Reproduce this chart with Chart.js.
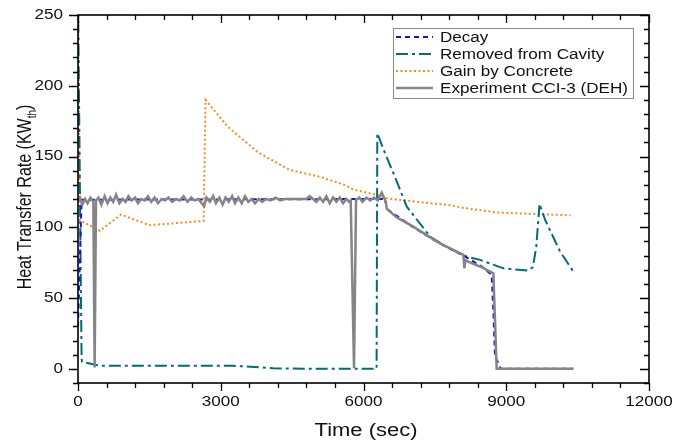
<!DOCTYPE html>
<html>
<head>
<meta charset="utf-8">
<script src="https://cdn.jsdelivr.net/npm/chart.js@4.4.1/dist/chart.umd.min.js"></script>
<style>
html,body{margin:0;padding:0;background:#fff;}
#wrap{width:688px;height:443px;position:relative;}
</style>
</head>
<body>
<div id="wrap"><canvas id="c" width="688" height="443"></canvas></div>
<script>
// ---- data ----
const xMajorTicks = [0, 3000, 6000, 9000, 12000];
const yMajorTicks = [0, 50, 100, 150, 200, 250];
const xMinorTicks = [600,1200,1800,2400,3600,4200,4800,5400,6600,7200,7800,8400,9600,10200,10800,11400];
const yMinorTicks = [-10,10,20,30,40,60,70,80,90,110,120,130,140,160,170,180,190,210,220,230,240];

const seriesLabels = ["Decay", "Removed from Cavity", "Gain by Concrete", "Experiment CCI-3 (DEH)"];

const decayT = [0, 75, 6450, 6490, 7047, 7608, 8099, 8500, 8693, 8730, 8764, 8854, 8880, 10410];
const decayV = [30, 119.5, 120, 113, 100, 88.5, 80, 72, 66.3, 40, 8.6, 2.7, 0, 0];

const removedT = [0, 75, 85, 460, 3260, 4100, 5000, 6275, 6290, 6420, 6680, 6910, 7400, 7800, 8170, 8450, 8940, 9460, 9560, 9630, 9700, 9820, 10130, 10410];
const removedV = [262, 9, 5, 2.2, 2.2, 0.4, 0, 0, 166.5, 155, 134, 114.6, 93.4, 85, 79.3, 77, 71, 69.4, 72, 86, 116.5, 105, 83, 68.7];

const gainT = [0, 40, 460, 900, 1500, 2640, 2680, 3150, 3780, 4450, 5100, 5600, 5800, 6280, 6500, 6770, 7400, 7800, 8100, 8800, 9500, 10350];
const gainV = [262, 105, 97.5, 109, 101.5, 104.5, 190, 171, 153, 140.5, 135.5, 130, 126.5, 123, 120.5, 119.3, 117, 115.8, 113.7, 110.5, 109.5, 108.5];

const expT = [0,40,90,150,200,260,322,350,378,430,490,560,620,680,740,800,870,940,1000,1060,1130,1200,1260,1330,1400,1470,1540,1610,1680,1760,1830,1900,1980,2060,2140,2220,2300,2380,2450,2530,2600,2650,2700,2770,2840,2900,2970,3040,3100,3170,3240,3300,3370,3440,3510,3580,3650,3720,3800,3870,3950,4050,4150,4250,4350,4800,4870,4940,5010,5080,5150,5220,5290,5360,5430,5500,5570,5640,5700,5731,5801,5843,5910,5980,6060,6140,6220,6300,6383,6430,6470,6490,6700,7047,7300,7608,8099,8120,8140,8200,8500,8729,8799,10400];
const expV = [118,121,116,120,117,121,118,1,119,121,116,122,117,121,118,123,117,120,118,122,119,121,117,120,119,122,118,121,117,120,119,121,118,120,119,122,118,121,119,120,117,115,121,118,122,117,121,116,121,118,122,117,121,117,122,118,120,117,120,118,120,119,121,119,120,120,122,120,118,121,118,122,117,121,118,121,117,120,118,119,0.5,119,121,118,121,119,121,119,124.5,121,118,113,107,100.5,95,88.7,80.5,71,77,75.7,71.5,67.5,0,0];

const zip = (t, v) => t.map((x, i) => ({x: x, y: v[i]}));

// ---- styling helpers ----
const FONT = '"Liberation Sans", Arial, sans-serif';
const HSCALE = 1.22;
function sText(ctx, txt, x, y, size, align, baseline) {
  ctx.save();
  ctx.font = size + 'px ' + FONT;
  ctx.textBaseline = baseline || 'alphabetic';
  const w = ctx.measureText(txt).width * HSCALE;
  let x0 = x;
  if (align === 'center') x0 = x - w / 2;
  else if (align === 'right') x0 = x - w;
  ctx.translate(x0, y);
  ctx.scale(HSCALE, 1);
  ctx.textAlign = 'left';
  ctx.fillText(txt, 0, 0);
  ctx.restore();
}

const axesPlugin = {
  id: 'axesPlugin',
  afterDraw(chart) {
    const ctx = chart.ctx;
    const a = chart.chartArea;
    const xs = chart.scales.x, ys = chart.scales.y;
    ctx.save();
    ctx.strokeStyle = '#000';
    ctx.fillStyle = '#111';
    ctx.lineWidth = 1.6;
    ctx.setLineDash([]);
    ctx.strokeRect(a.left, a.top, a.right - a.left, a.bottom - a.top);
    ctx.lineWidth = 1.3;
    ctx.beginPath();
    xMajorTicks.forEach(v => {
      const p = Math.round(xs.getPixelForValue(v)) + 0.5;
      ctx.moveTo(p, a.bottom); ctx.lineTo(p, a.bottom + 8);
      ctx.moveTo(p, a.top); ctx.lineTo(p, a.top + 8);
    });
    xMinorTicks.forEach(v => {
      const p = Math.round(xs.getPixelForValue(v)) + 0.5;
      ctx.moveTo(p, a.bottom); ctx.lineTo(p, a.bottom + 5);
      ctx.moveTo(p, a.top); ctx.lineTo(p, a.top + 5);
    });
    yMajorTicks.forEach(v => {
      const p = Math.round(ys.getPixelForValue(v)) + 0.5;
      ctx.moveTo(a.left - 9, p); ctx.lineTo(a.left, p);
      ctx.moveTo(a.right, p); ctx.lineTo(a.right - 9, p);
    });
    yMinorTicks.forEach(v => {
      const p = Math.round(ys.getPixelForValue(v)) + 0.5;
      ctx.moveTo(a.left - 5, p); ctx.lineTo(a.left, p);
      ctx.moveTo(a.right, p); ctx.lineTo(a.right - 5, p);
    });
    ctx.stroke();

    // tick labels
    xMajorTicks.forEach(v => {
      sText(ctx, String(v), xs.getPixelForValue(v), a.bottom + 19, 14, 'center', 'middle');
    });
    yMajorTicks.forEach(v => {
      sText(ctx, String(v), a.left - 15, ys.getPixelForValue(v), 14, 'right', 'middle');
    });

    // x title
    sText(ctx, 'Time (sec)', 366, 436, 18, 'center', 'alphabetic');

    // y title with subscript
    ctx.save();
    const main = 'Heat Transfer Rate (KW', sub = 'th', close = ')';
    const fs = 16, fsub = 10;
    ctx.font = fs + 'px ' + FONT;
    const w1 = ctx.measureText(main).width;
    const w3 = ctx.measureText(close).width;
    ctx.font = fsub + 'px ' + FONT;
    const w2 = ctx.measureText(sub).width;
    const total = w1 + w2 + w3;
    ctx.translate(31, 197);
    ctx.scale(HSCALE, 1);
    ctx.rotate(-Math.PI / 2);
    ctx.textBaseline = 'alphabetic';
    ctx.textAlign = 'left';
    let x0 = -total / 2;
    ctx.font = fs + 'px ' + FONT;
    ctx.fillText(main, x0, 0);
    ctx.font = fsub + 'px ' + FONT;
    ctx.fillText(sub, x0 + w1, 4);
    ctx.font = fs + 'px ' + FONT;
    ctx.fillText(close, x0 + w1 + w2, 0);
    ctx.restore();

    // legend
    const lx = 393, ly = 28, lw = 240, lh = 70;
    ctx.fillStyle = '#fff';
    ctx.fillRect(lx, ly, lw, lh);
    ctx.strokeStyle = '#888';
    ctx.lineWidth = 1;
    ctx.strokeRect(lx + 0.5, ly + 0.5, lw, lh);
    chart.data.datasets.forEach((ds, i) => {
      const yy = 37 + i * 17;
      ctx.save();
      ctx.strokeStyle = ds.borderColor;
      ctx.lineWidth = ds.borderWidth;
      ctx.setLineDash(ds.borderDash || []);
      ctx.beginPath();
      ctx.moveTo(396, yy); ctx.lineTo(433, yy);
      ctx.stroke();
      ctx.restore();
      ctx.fillStyle = '#111';
      sText(ctx, ds.label, 440, yy + 1, 14, 'left', 'middle');
    });
    ctx.restore();
  }
};

new Chart(document.getElementById('c'), {
  type: 'line',
  data: {
    datasets: [
      { label: seriesLabels[0], data: zip(decayT, decayV), borderColor: '#1515d8', borderWidth: 2, borderDash: [5, 4], pointRadius: 0, fill: false, order: 1 },
      { label: seriesLabels[1], data: zip(removedT, removedV), borderColor: '#006b7d', borderWidth: 2, borderDash: [12, 4, 3, 4], pointRadius: 0, fill: false, order: 2 },
      { label: seriesLabels[2], data: zip(gainT, gainV), borderColor: '#ff8a1c', borderWidth: 2, borderDash: [2, 2.5], pointRadius: 0, fill: false, order: 3 },
      { label: seriesLabels[3], data: zip(expT, expV), borderColor: '#858585', borderWidth: 2.5, pointRadius: 0, fill: false, order: 0 }
    ]
  },
  options: {
    responsive: false,
    animation: false,
    devicePixelRatio: 1,
    layout: { padding: { left: 78, top: 15, right: 39, bottom: 60 } },
    plugins: { legend: { display: false }, tooltip: { enabled: false } },
    elements: { line: { tension: 0 } },
    scales: {
      x: { type: 'linear', min: 0, max: 12000, display: false },
      y: { type: 'linear', min: -10, max: 250, display: false }
    }
  },
  plugins: [axesPlugin]
});
</script>
</body>
</html>
